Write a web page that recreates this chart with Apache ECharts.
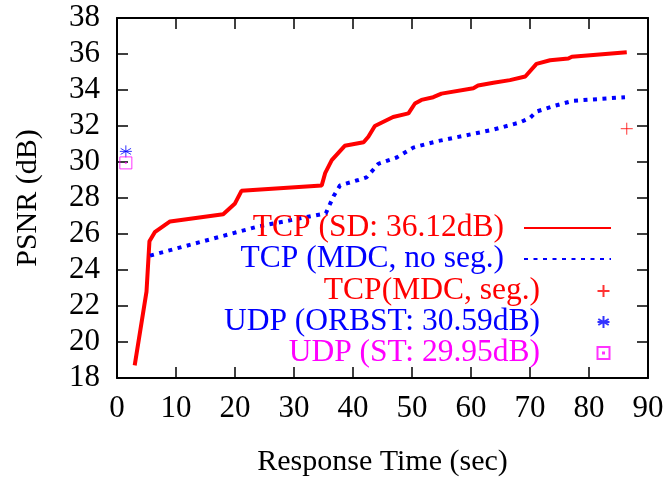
<!DOCTYPE html>
<html>
<head>
<meta charset="utf-8">
<script src="https://cdn.jsdelivr.net/npm/echarts@6/dist/echarts.min.js"></script>
<style>
  html, body { margin: 0; padding: 0; background: #fff; }
  #main { width: 668px; height: 482px; }
</style>
</head>
<body>
<div id="main"></div>
<script>
var FONT = 'Liberation Serif'

// [response time (sec), PSNR (dB)]
var tcpSd = [
  [3.0, 18.7], [5.0, 22.8], [5.5, 25.6], [6.4, 26.1], [9.0, 26.7], [18.0, 27.1],
  [20.0, 27.7], [21.1, 28.4], [34.7, 28.7], [35.3, 29.4], [36.4, 30.1], [38.6, 30.9],
  [41.8, 31.1], [42.6, 31.4], [43.7, 32.0], [46.8, 32.5], [49.4, 32.7], [50.5, 33.25],
  [51.6, 33.45], [53.6, 33.6], [55.0, 33.8], [60.4, 34.1], [61.2, 34.25], [63.8, 34.4],
  [66.6, 34.55], [69.2, 34.75], [71.1, 35.45], [73.4, 35.65], [76.5, 35.75], [77.1, 35.85],
  [86.4, 36.1]
]
var tcpMdcNoSeg = [
  [5.6, 24.8], [23.7, 26.4], [35.4, 27.15], [36.7, 28.1], [37.8, 28.7], [40.9, 29.0],
  [42.3, 29.15], [43.5, 29.6], [44.3, 29.9], [47.4, 30.25], [50.2, 30.8], [54.2, 31.15],
  [58.7, 31.45], [63.8, 31.8], [68.3, 32.2], [70.0, 32.45], [71.1, 32.8], [73.9, 33.1],
  [77.3, 33.4], [86.1, 33.6]
]
var tcpMdcSeg = [[86.4, 31.85]]
var udpOrbst = [[1.5, 30.59]]
var udpSt = [[1.5, 29.95]]

var names = ['TCP (SD: 36.12dB)', 'TCP (MDC, no seg.)', 'TCP(MDC, seg.)', 'UDP (ORBST: 30.59dB)', 'UDP (ST: 29.95dB)']
var colors = ['#ff0000', '#0000ff', '#ff0000', '#0000ff', '#ff00ff']

var plusPath = 'path://M0,6L12,6M6,0L6,12'
var starPath = 'path://M6,0L6,12M0.8,3L11.2,9M0.8,9L11.2,3M0,6L12,6'
var boxPath = 'path://M0,0L12,0L12,12L0,12ZM5.5,5.5L6.5,5.5L6.5,6.5L5.5,6.5Z'

var myChart = echarts.init(document.getElementById('main'), null, { renderer: 'canvas' })

var axisCommon = {
  axisLine: { show: true, onZero: false, lineStyle: { color: '#000', width: 2 } },
  axisTick: { show: true, inside: true, length: 11, lineStyle: { color: '#000', width: 1.5 } },
  splitLine: { show: false }
}

// 每个图例单独放，文字右对齐
var rowTops = [212, 243, 275, 306, 337]
var legends = names.map(function (n, i) {
  return {
    data: [n],
    orient: 'vertical',
    align: 'right',
    right: 56,
    top: rowTops[i],
    padding: 0,
    itemWidth: 87,
    itemHeight: i < 2 ? 14 : 12,
    selectedMode: false,
    itemStyle: i < 2 ? { opacity: 0 } : {},
    formatter: '{t|{name}}',
    textStyle: {
      color: colors[i],
      rich: { t: { color: colors[i], fontFamily: FONT, fontSize: 31.5, padding: [0, 15, 0, 0] } }
    }
  }
})

var option = {
  animation: false,
  backgroundColor: '#fff',
  textStyle: { fontFamily: FONT },
  grid: { left: 117, right: 20, top: 18, bottom: 102 },
  legend: legends,
  xAxis: [
    Object.assign({
      type: 'value', min: 0, max: 90, interval: 10, position: 'bottom',
      name: 'Response Time (sec)', nameLocation: 'middle', nameGap: 69,
      nameTextStyle: { color: '#000', fontFamily: FONT, fontSize: 30 },
      axisLabel: { color: '#000', fontFamily: FONT, fontSize: 31, margin: 15 }
    }, axisCommon),
    Object.assign({
      type: 'value', min: 0, max: 90, interval: 10, position: 'top',
      axisLabel: { show: false }
    }, axisCommon)
  ],
  yAxis: [
    Object.assign({
      type: 'value', min: 18, max: 38, interval: 2, position: 'left',
      name: 'PSNR (dB)', nameLocation: 'middle', nameGap: 74, nameRotate: 90,
      nameTextStyle: { color: '#000', fontFamily: FONT, fontSize: 30 },
      axisLabel: { color: '#000', fontFamily: FONT, fontSize: 31, margin: 17 }
    }, axisCommon),
    Object.assign({
      type: 'value', min: 18, max: 38, interval: 2, position: 'right',
      axisLabel: { show: false }
    }, axisCommon)
  ],
  series: [
    {
      name: names[0],
      type: 'line',
      data: tcpSd,
      symbol: 'none',
      lineStyle: { color: colors[0], width: 4 },
      itemStyle: { color: colors[0] }
    },
    {
      name: names[1],
      type: 'line',
      data: tcpMdcNoSeg,
      symbol: 'none',
      lineStyle: { color: colors[1], width: 4, type: [4, 5.5], cap: 'butt' },
      itemStyle: { color: colors[1] }
    },
    {
      name: names[2],
      type: 'scatter',
      data: tcpMdcSeg,
      symbol: plusPath,
      symbolSize: 12,
      itemStyle: { color: 'none', borderColor: colors[2], borderWidth: 1 }
    },
    {
      name: names[3],
      type: 'scatter',
      data: udpOrbst,
      symbol: starPath,
      symbolSize: 12,
      itemStyle: { color: 'none', borderColor: colors[3], borderWidth: 1 }
    },
    {
      name: names[4],
      type: 'scatter',
      data: udpSt,
      symbol: boxPath,
      symbolSize: 12,
      itemStyle: { color: 'none', borderColor: colors[4], borderWidth: 1 }
    }
  ]
}

myChart.setOption(option)
</script>
</body>
</html>
